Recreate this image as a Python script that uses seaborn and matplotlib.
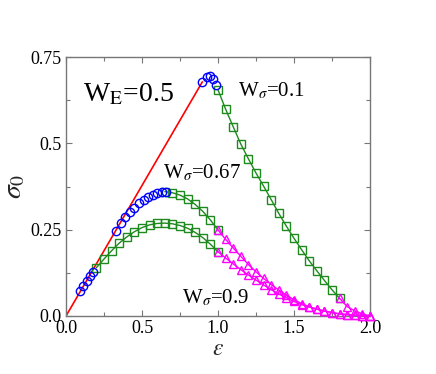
import matplotlib
matplotlib.use("Agg")
import matplotlib.pyplot as plt
import seaborn as sns
import numpy as np
from matplotlib.ticker import MultipleLocator

# ---------------- data ----------------
# elastic (red) line
elastic_x = [0.0, 0.897]
elastic_y = [0.0, 0.678]

# blue circles (small-strain / peak points)
circ_low_x = [0.09, 0.11, 0.135, 0.16, 0.18]
circ_low_y = [0.072, 0.086, 0.101, 0.115, 0.128]
circ_mid_x = [0.33, 0.36, 0.39, 0.42, 0.45, 0.48, 0.51, 0.54, 0.57, 0.60, 0.63, 0.66]
circ_mid_y = [0.247, 0.268, 0.286, 0.301, 0.314, 0.326, 0.336, 0.344, 0.351, 0.356, 0.359, 0.360]
circ_top_x = [0.897, 0.925, 0.947, 0.97, 0.99]
circ_top_y = [0.677, 0.692, 0.694, 0.687, 0.670]

# W_sigma = 0.1
w01_sq_x = [1.00, 1.05, 1.10, 1.15, 1.20, 1.25, 1.30, 1.35, 1.40, 1.45, 1.50, 1.55, 1.60, 1.65, 1.70, 1.75, 1.80]
w01_sq_y = [0.655, 0.599, 0.548, 0.498, 0.455, 0.414, 0.376, 0.337, 0.297, 0.260, 0.225, 0.192, 0.160, 0.131, 0.103, 0.076, 0.051]
w01_tri_x = [1.80, 1.85, 1.90, 1.95, 2.00]
w01_tri_y = [0.051, 0.027, 0.015, 0.006, 0.0]

# W_sigma = 0.67
w067_sq_x = [0.65, 0.70, 0.75, 0.80, 0.85, 0.90, 0.95, 1.00]
w067_sq_y = [0.360, 0.357, 0.350, 0.339, 0.323, 0.303, 0.278, 0.249]
tri_x = [1.00, 1.05, 1.10, 1.15, 1.20, 1.25, 1.30, 1.35, 1.40, 1.45, 1.50,
         1.55, 1.60, 1.65, 1.70, 1.75, 1.80, 1.85, 1.90, 1.95, 2.00]
w067_tri_y = [0.249, 0.222, 0.197, 0.173, 0.149, 0.128, 0.109, 0.091, 0.075, 0.061, 0.047,
              0.036, 0.027, 0.020, 0.014, 0.010, 0.006, 0.004, 0.002, 0.001, 0.0]

# W_sigma = 0.9
w09_sq_x = [0.20, 0.25, 0.30, 0.35, 0.40, 0.45, 0.50, 0.55, 0.60, 0.65, 0.70, 0.75, 0.80, 0.85, 0.90, 0.95, 1.00]
w09_sq_y = [0.140, 0.165, 0.189, 0.211, 0.229, 0.244, 0.256, 0.264, 0.268, 0.269, 0.267, 0.262, 0.254, 0.242, 0.227, 0.208, 0.186]
w09_tri_y = [0.186, 0.168, 0.151, 0.134, 0.119, 0.104, 0.090, 0.076, 0.064, 0.053, 0.042,
             0.033, 0.026, 0.020, 0.014, 0.010, 0.006, 0.004, 0.002, 0.001, 0.0]

x_ticks = [0.0, 0.5, 1.0, 1.5, 2.0]
x_ticklabels = ["0.0", "0.5", "1.0", "1.5", "2.0"]
y_ticks = [0.0, 0.25, 0.5, 0.75]
y_ticklabels = ["0.0", "0.25", "0.5", "0.75"]

# ---------------- style ----------------
sns.set_theme(style="ticks")
plt.rcParams["font.family"] = ["Liberation Serif", "DejaVu Serif"]
plt.rcParams["mathtext.fontset"] = "stix"

RED = "#ff0000"
BLUE = "#0000ff"
GREEN = "#1e8a1e"
MAG = "#ff00ff"

fig = plt.figure(figsize=(4.36, 3.74), dpi=100)
ax = fig.add_axes([66 / 436, 1 - 316 / 374, (370 - 66) / 436, (316 - 57) / 374])

ms = 5.6
mew = 1.0

sns.lineplot(x=elastic_x, y=elastic_y, ax=ax, color=RED, linewidth=1.2, zorder=2)

def line_marks(x, y, color, marker, size=ms):
    sns.lineplot(x=x, y=y, ax=ax, color=color, linewidth=1.0, marker=marker,
                 markersize=size, markerfacecolor="none", markeredgecolor=color,
                 markeredgewidth=mew, clip_on=False, zorder=3)

def marks_only(x, y, color, marker, size=ms):
    sns.lineplot(x=x, y=y, ax=ax, color=color, linestyle="none", marker=marker,
                 markersize=size, markerfacecolor="none", markeredgecolor=color,
                 markeredgewidth=mew, clip_on=False, zorder=4)

# green square segments
line_marks(w01_sq_x, w01_sq_y, GREEN, "s")
line_marks(w067_sq_x, w067_sq_y, GREEN, "s")
line_marks(w09_sq_x, w09_sq_y, GREEN, "s")
# magenta triangle segments
line_marks(tri_x, w067_tri_y, MAG, "^", 6.0)
line_marks(tri_x, w09_tri_y, MAG, "^", 6.0)
line_marks(w01_tri_x, w01_tri_y, MAG, "^", 6.0)
# blue circles
marks_only(circ_low_x, circ_low_y, BLUE, "o", 6.0)
marks_only(circ_mid_x, circ_mid_y, BLUE, "o", 6.0)
marks_only(circ_top_x, circ_top_y, BLUE, "o", 6.0)

ax.set_xlim(0, 2.0)
ax.set_ylim(0, 0.75)
ax.set_xticks(x_ticks)
ax.set_xticklabels(x_ticklabels)
ax.set_yticks(y_ticks)
ax.set_yticklabels(y_ticklabels)
ax.xaxis.set_minor_locator(MultipleLocator(0.25))
ax.yaxis.set_minor_locator(MultipleLocator(0.125))
ax.tick_params(which="both", direction="in", top=True, right=True,
               color="#777777", labelsize=13, labelcolor="black", pad=3)
ax.tick_params(which="major", length=4, width=0.8)
ax.tick_params(which="minor", length=3, width=0.8)
for s in ax.spines.values():
    s.set_color("#777777")
    s.set_linewidth(1.0)

ax.set_xlabel(r"$\varepsilon$", fontsize=17, labelpad=1)
ax.set_ylabel(r"$\sigma_0$", fontsize=20, labelpad=2)

ax.text(0.11, 0.621, r"W$_{\rm E}$=0.5", fontsize=20, color="black")
ax.text(1.13, 0.636, r"W$_{\sigma}$=0.1", fontsize=15, color="black")
ax.text(0.64, 0.40, r"W$_{\sigma}$=0.67", fontsize=15, color="black")
ax.text(0.76, 0.037, r"W$_{\sigma}$=0.9", fontsize=15, color="black")

fig.savefig("out.png", dpi=100)
